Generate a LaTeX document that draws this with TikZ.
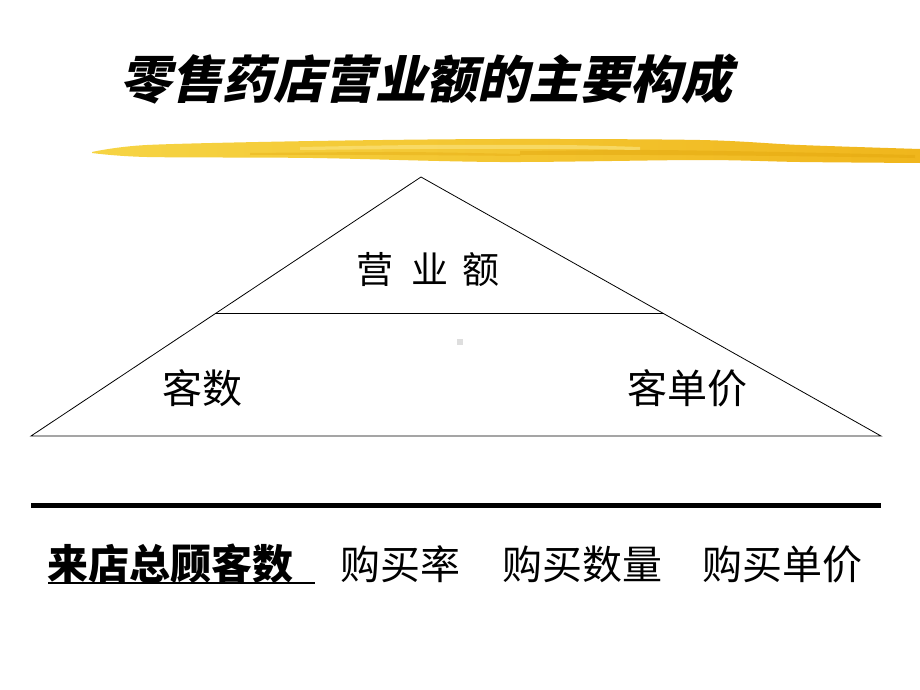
\documentclass[tikz,border=0pt]{standalone}
\usepackage{fontspec}
\newfontfamily\cjk{Noto Sans CJK SC}
\newfontfamily\cjktitle[BoldFeatures={FakeSlant=0.22},FakeSlant=0.22]{Noto Sans CJK SC}
\definecolor{brushL}{HTML}{F6D444}
\definecolor{brushR}{HTML}{F0B61C}
\definecolor{brushB}{HTML}{FAE27A}
\definecolor{brushC}{HTML}{E2A60C}
\tikzset{
  txt/.style={inner sep=0pt, font=\cjk\fontsize{40}{40}\selectfont},
  thin/.style={line width=0.8pt, black},
}
\begin{document}
\begin{tikzpicture}[x=1pt,y=-1pt]
\useasboundingbox (0,0) rectangle (920,690);
\fill[white] (0,0) rectangle (920,690);
% title
\node[inner sep=0pt, anchor=west, font=\cjktitle\bfseries\fontsize{51}{51}\selectfont] (title) at (120,79) {零售药店营业额的主要构成};
% brush stroke
\shade[left color=brushL, right color=brushR]
  plot[smooth] coordinates {(92,152) (147,145) (313,141) (500,139) (700,140) (800,145) (920,149)}
  -- plot[smooth] coordinates {(920,163) (800,162) (700,160) (500,162) (313,158) (147,157) (92,153)} -- cycle;
\fill[brushB,opacity=0.7] plot[smooth] coordinates {(300,147) (420,145) (560,145) (640,147)}
  -- plot[smooth] coordinates {(640,150) (560,149) (420,149) (300,150)} -- cycle;
\fill[brushC,opacity=0.45] plot[smooth] coordinates {(520,151) (650,150) (780,152) (915,155)}
  -- plot[smooth] coordinates {(915,158) (780,156) (650,155) (520,155)} -- cycle;
\fill[brushC,opacity=0.35] plot[smooth] coordinates {(250,153) (400,152) (520,154)}
  -- plot[smooth] coordinates {(520,156) (400,155) (250,155)} -- cycle;
% triangle
\coordinate (apex) at (421,177);
\coordinate (bl) at (31,436);
\coordinate (br) at (881,436);
\coordinate (ml) at (215.5,313);
\coordinate (mr) at (663,313);
\draw[thin] (bl) -- (apex) -- (br) -- cycle;
\draw[thin] (ml) -- (mr);
\node[txt, font=\cjk\fontsize{37}{37}\selectfont] (rev) at (428,270) {营\hspace{19pt}业\hspace{14pt}额};
\node[txt, anchor=west] (kes) at (162,388) {客数};
\node[txt, anchor=west] (kdj) at (627,388) {客单价};
\fill[black!13] (457,339) rectangle (463,345);
% thick rule
\coordinate (ra) at (31,505.5);
\coordinate (rb) at (881,505.5);
\draw[line width=5.5pt] (ra) -- (rb);
% bottom row
\node[txt, anchor=west, font=\cjk\bfseries\fontsize{41}{41}\selectfont] (lai) at (47,564) {来店总顾客数};
\coordinate (ua) at (48,583);
\coordinate (ub) at (315,583);
\draw[line width=2.5pt] (ua) -- (ub);
\node[txt, anchor=west] (gml) at (340,564) {购买率};
\node[txt, anchor=west] (gmsl) at (502,564) {购买数量};
\node[txt, anchor=west] (gmdj) at (702,564) {购买单价};
\end{tikzpicture}
\end{document}
